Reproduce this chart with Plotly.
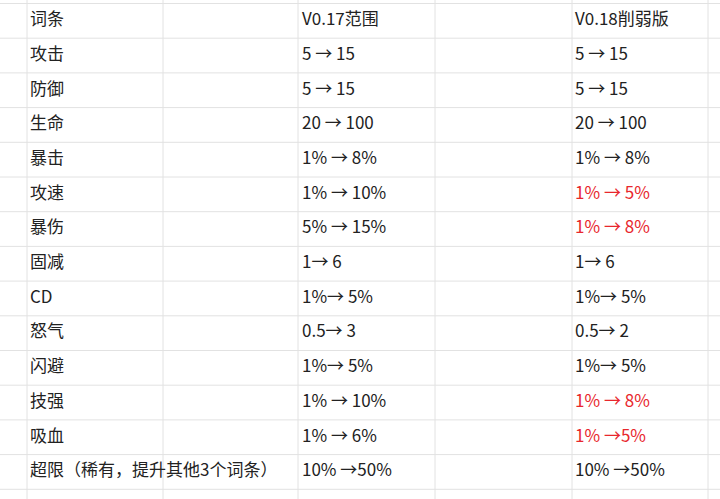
import plotly.graph_objects as go

terms = ["词条","攻击","防御","生命","暴击","攻速","暴伤","固减","CD","怒气","闪避","技强","吸血","超限（稀有，提升其他3个词条）"]
v017 = ["V0.17范围","5 → 15","5 → 15","20 → 100","1% → 8%","1% → 10%","5% → 15%","1→ 6","1%→ 5%","0.5→ 3","1%→ 5%","1% → 10%","1% → 6%","10% →50%"]
v018 = ["V0.18削弱版","5 → 15","5 → 15","20 → 100","1% → 8%","1% → 5%","1% → 8%","1→ 6","1%→ 5%","0.5→ 2","1%→ 5%","1% → 8%","1% →5%","10% →50%"]
nerfed = [False,False,False,False,False,True,True,False,False,False,False,True,True,False]

col_edges = [27,163,298,435,572,708]
row_top, row_h = 3.5, 34.7
n = len(terms)
ys = [row_top + row_h*(i+0.5) for i in range(n)]

fig = go.Figure()
font = "Noto Sans CJK SC, Noto Sans, sans-serif"
def add(xpos, texts, colors):
    fig.add_trace(go.Scatter(x=[xpos]*n, y=ys, mode="text", text=texts,
        textposition="middle right", textfont=dict(size=17, color=colors, family=font),
        hoverinfo="skip", showlegend=False))
add(col_edges[0]+3, terms, ["#222222"]*n)
add(col_edges[2]+4, v017, ["#222222"]*n)
add(col_edges[4]+3, v018, ["#e8272d" if r else "#222222" for r in nerfed])

shapes = []
for x in col_edges:
    shapes.append(dict(type="line", x0=x, x1=x, y0=0, y1=499, line=dict(color="#e2e2e2", width=1), layer="below"))
for i in range(n+1):
    y = row_top + row_h*i
    shapes.append(dict(type="line", x0=0, x1=720, y0=y, y1=y, line=dict(color="#e2e2e2", width=1), layer="below"))

fig.update_layout(width=720, height=499, margin=dict(l=0,r=0,t=0,b=0),
    paper_bgcolor="white", plot_bgcolor="white", shapes=shapes,
    xaxis=dict(range=[0,720], visible=False, fixedrange=True),
    yaxis=dict(range=[499,0], visible=False, fixedrange=True))
fig.write_html("out.html", config={"displayModeBar": False},
               post_script="document.body.style.margin='0';document.body.style.padding='0';")
